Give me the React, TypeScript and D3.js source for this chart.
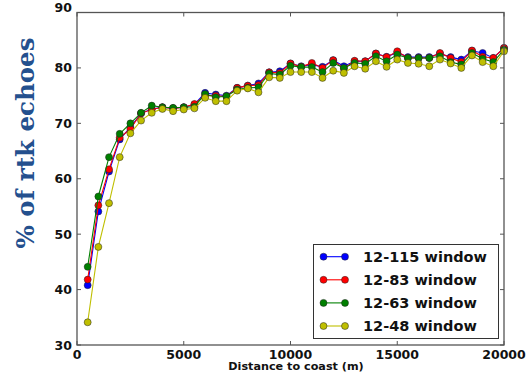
import React from "react";
import * as d3 from "d3";

const distances = [500, 1000, 1500, 2000, 2500, 3000, 3500, 4000, 4500, 5000, 5500, 6000, 6500, 7000, 7500, 8000, 8500, 9000, 9500, 10000, 10500, 11000, 11500, 12000, 12500, 13000, 13500, 14000, 14500, 15000, 15500, 16000, 16500, 17000, 17500, 18000, 18500, 19000, 19500, 20000];

const w115 = [40.8, 54.1, 61.3, 67.1, 69.3, 71.8, 72.6, 72.9, 72.7, 72.9, 73.4, 75.5, 75.2, 75.0, 76.4, 76.8, 77.2, 79.2, 79.4, 80.8, 80.3, 80.6, 80.2, 81.4, 80.3, 81.2, 81.2, 82.6, 82.0, 82.8, 81.95, 81.95, 81.95, 82.6, 81.95, 81.5, 83.1, 82.7, 81.8, 83.6];
const w83 = [41.8, 55.2, 61.7, 67.4, 69.0, 71.8, 72.5, 72.9, 72.7, 72.9, 73.5, 75.0, 75.0, 74.8, 76.4, 76.8, 76.9, 79.2, 79.1, 80.8, 80.2, 80.9, 80.0, 81.4, 79.85, 81.3, 81.2, 82.6, 81.95, 83.0, 81.8, 81.8, 81.8, 82.7, 81.8, 81.05, 83.15, 82.0, 81.8, 83.6];
const w63 = [44.1, 56.8, 63.9, 68.1, 70.0, 71.9, 73.2, 72.9, 72.8, 72.9, 73.0, 75.3, 74.7, 74.9, 76.1, 76.4, 76.5, 79.0, 78.8, 80.4, 80.15, 80.15, 79.25, 80.9, 80.0, 80.9, 80.75, 82.1, 81.2, 82.4, 81.8, 81.8, 81.8, 82.1, 81.05, 80.6, 82.7, 81.65, 81.05, 83.3];
const w48 = [34.1, 47.7, 55.6, 63.9, 68.2, 70.5, 71.9, 72.6, 72.2, 72.5, 72.7, 74.6, 74.0, 74.0, 75.9, 76.3, 75.6, 78.3, 78.2, 79.25, 79.25, 79.25, 78.2, 79.5, 79.1, 80.3, 79.85, 81.2, 80.2, 81.5, 80.9, 80.75, 80.3, 81.5, 80.8, 80.0, 82.25, 81.05, 80.3, 83.0];

const seriesNames = ["12-115 window", "12-83 window", "12-63 window", "12-48 window"];
const seriesColors = ["#0000ff", "#ff0000", "#008000", "#bfbf00"];
const seriesValues = [w115, w83, w63, w48];

const xTicks = [0, 5000, 10000, 15000, 20000];
const yTicks = [30, 40, 50, 60, 70, 80, 90];

const W = 528;
const H = 375;
const left = 77;
const right = 504;
const top = 12.5;
const bottom = 345;

export default function App() {
  const x = d3.scaleLinear().domain([0, 20000]).range([left, right]);
  const y = d3.scaleLinear().domain([30, 90]).range([bottom, top]);
  const line = d3
    .line<[number, number]>()
    .x((d) => x(d[0]))
    .y((d) => y(d[1]));

  const tickFont = "'DejaVu Sans', sans-serif";
  const frame = "#555";

  return (
    <div style={{ position: "fixed", left: 0, top: 0 }}>
      <svg width={W} height={H} style={{ display: "block", background: "#fff" }}>
        <rect x={0} y={0} width={W} height={H} fill="#fff" />
        {seriesValues.map((vals, si) => {
          const pts = distances.map((d, i) => [d, vals[i]] as [number, number]);
          return (
            <g key={si}>
              <path d={line(pts) || ""} fill="none" stroke={seriesColors[si]} strokeWidth={1.1} />
              {pts.map((p, i) => (
                <circle key={i} cx={x(p[0])} cy={y(p[1])} r={3.5} fill={seriesColors[si]} stroke="#222" strokeWidth={0.5} />
              ))}
            </g>
          );
        })}
        <rect x={left} y={top} width={right - left} height={bottom - top} fill="none" stroke={frame} strokeWidth={1.3} />
        {xTicks.map((t) => (
          <g key={"x" + t}>
            <line x1={x(t)} x2={x(t)} y1={bottom} y2={bottom - 4} stroke={frame} strokeWidth={1} />
            <line x1={x(t)} x2={x(t)} y1={top} y2={top + 4} stroke={frame} strokeWidth={1} />
            <text x={x(t)} y={358.5} textAnchor="middle" fontFamily={tickFont} fontWeight="bold" fontSize={12.5} fill="#111">
              {t}
            </text>
          </g>
        ))}
        {yTicks.map((t) => (
          <g key={"y" + t}>
            <line x1={left} x2={left + 4} y1={y(t)} y2={y(t)} stroke={frame} strokeWidth={1} />
            <line x1={right} x2={right - 4} y1={y(t)} y2={y(t)} stroke={frame} strokeWidth={1} />
            <text x={72} y={y(t) - (t === 90 ? 5 : 0)} dy="0.36em" textAnchor="end" fontFamily={tickFont} fontWeight="bold" fontSize={12.5} fill="#111">
              {t}
            </text>
          </g>
        ))}
        <text x={296} y={370} textAnchor="middle" fontFamily={tickFont} fontWeight="bold" fontSize={11.2} fill="#111">
          Distance to coast (m)
        </text>
        <text
          transform={`translate(34, 143) rotate(-90)`}
          textAnchor="middle"
          fontFamily="'DejaVu Serif', serif"
          fontWeight="bold"
          fontSize={24.5}
          fill="#24508e"
        >
          % of rtk echoes
        </text>
        <g>
          <rect x={313.5} y={244.5} width={185} height={94} fill="#fff" stroke="#333" strokeWidth={1} />
          {seriesNames.map((name, i) => {
            const ly = 256.7 + i * 23.1;
            return (
              <g key={name}>
                <line x1={323.5} x2={345} y1={ly} y2={ly} stroke={seriesColors[i]} strokeWidth={1.1} />
                <circle cx={323.5} cy={ly} r={3.5} fill={seriesColors[i]} stroke="#222" strokeWidth={0.5} />
                <circle cx={345} cy={ly} r={3.5} fill={seriesColors[i]} stroke="#222" strokeWidth={0.5} />
                <text x={363} y={ly} dy="0.36em" fontFamily={tickFont} fontWeight="bold" fontSize={14.5} fill="#111">
                  {name}
                </text>
              </g>
            );
          })}
        </g>
      </svg>
    </div>
  );
}
